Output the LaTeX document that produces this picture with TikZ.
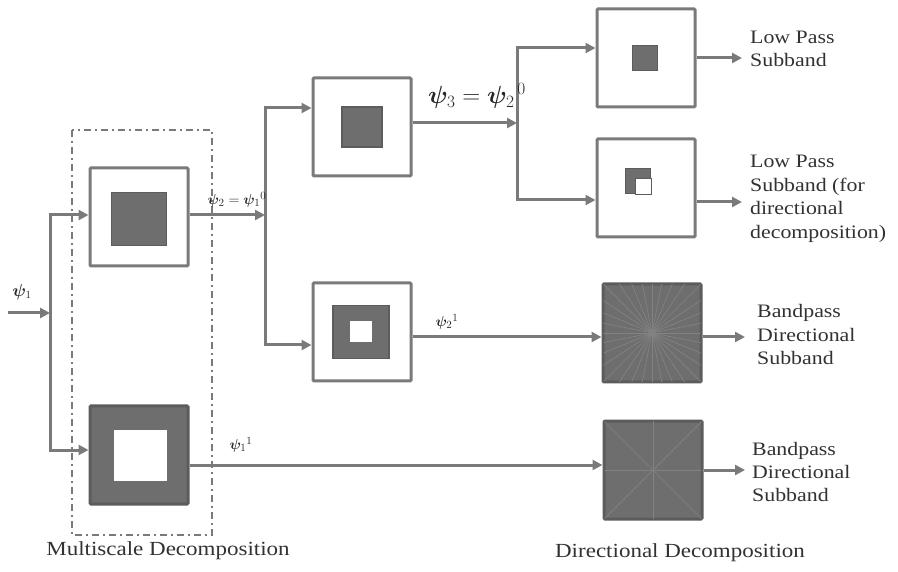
\documentclass[tikz,border=0pt]{standalone}
\usepackage{bm}
\usepackage{fontspec}
\setmainfont{Liberation Serif}
\newfontfamily\lblfont[FakeStretch=1.15]{Liberation Serif}
\usetikzlibrary{arrows.meta}

\definecolor{linegray}{RGB}{122,122,122}
\definecolor{boxgray}{RGB}{110,110,110}
\definecolor{edgegray}{RGB}{92,92,92}
\definecolor{raygray}{RGB}{130,130,130}
\definecolor{txtgray}{RGB}{50,50,50}

\tikzstyle{frame}=[draw=linegray,line width=3pt,fill=white,minimum size=98pt,inner sep=0pt,rounded corners=1pt]
\tikzstyle{darkframe}=[frame,draw=edgegray,fill=boxgray]
\tikzstyle{core}=[draw=edgegray,line width=1.5pt,fill=boxgray,inner sep=0pt]
\tikzstyle{hole}=[draw=edgegray,line width=1pt,fill=white,inner sep=0pt]
\tikzstyle{flow}=[draw=linegray,line width=3pt,-{Triangle[length=10pt,width=10pt]}]
\tikzstyle{ray}=[draw=raygray,line width=0.7pt]
\tikzstyle{msbox}=[draw=linegray,line width=2pt,dash pattern=on 7pt off 4pt on 2pt off 4pt]
\tikzstyle{lbl}=[text=txtgray,font=\lblfont\fontsize{19}{23.5}\selectfont,align=left,inner sep=0pt]
\tikzstyle{foot}=[text=txtgray,font=\lblfont\fontsize{20}{24}\selectfont,inner sep=0pt]
\tikzstyle{sym}=[text=black!85,inner sep=0pt]

\begin{document}
\begin{tikzpicture}[x=1pt,y=-1pt]
	\useasboundingbox (0,0) rectangle (898,572);
	%Multiscale stage
	\draw[msbox] (72,130) rectangle (212,535);
	%Boxes, white
	\foreach \pos/\name in {{(139,217)/lo1}, {(362,127)/lo2}, {(646,58)/lo3},
							{(646,188)/lo3d}, {(362,332)/hi2}}
		\node[frame] (\name) at \pos {};
	%Boxes, dark
	\foreach \pos/\name in {{(139,455)/hi1}, {(652,333)/dir2}, {(653,470)/dir1}}
		\node[darkframe] (\name) at \pos {};
	%Contents
	\node[core,minimum width=55pt,minimum height=53pt] (lo1c) at (139,219) {};
	\node[core,minimum size=40pt] (lo2c) at (362,127) {};
	\node[core,minimum size=25pt] (lo3c) at (645,58) {};
	\node[core,minimum size=25pt] (lo3dc) at (638,181) {};
	\node[hole,minimum size=16pt] (lo3dh) at (643,187) {};
	\node[hole,draw=none,minimum width=53pt,minimum height=51pt] (hi1h) at (140,455) {};
	\node[core,minimum width=56pt,minimum height=53pt] (hi2c) at (361,332) {};
	\node[hole,draw=none,minimum width=22pt,minimum height=21pt] (hi2h) at (361,332) {};
	%Directional filters
	\begin{scope}
		\clip ([shift={(2pt,2pt)}]dir2.south west) rectangle ([shift={(-2pt,-2pt)}]dir2.north east);
		\foreach \a in {0,11.25,...,350}
			\draw[ray] (dir2.center) -- ++(\a:80pt);
	\end{scope}
	\begin{scope}
		\clip ([shift={(2pt,2pt)}]dir1.south west) rectangle ([shift={(-2pt,-2pt)}]dir1.north east);
		\foreach \a in {0,45,...,315}
			\draw[ray] (dir1.center) -- ++(\a:80pt);
	\end{scope}
	%Junctions
	\foreach \pos/\name in {{(8,313)/src}, {(50,313)/split1}, {(265,215)/split2}, {(517,123)/split3},
							{(742,58)/o1}, {(742,202)/o2}, {(745,337)/o3}, {(745,470)/o4}}
		\node[coordinate] (\name) at \pos {};
	%Connectors
	\draw[flow] (src) -- (split1);
	\draw[flow] (split1) |- ([yshift=2pt]lo1.west);
	\draw[flow] (split1) |- ([yshift=5pt]hi1.west);
	\draw[flow] ([yshift=2pt]lo1.east) -- (split2);
	\draw[flow] (split2) |- ([yshift=19pt]lo2.west);
	\draw[flow] (split2) |- ([yshift=-13pt]hi2.west);
	\draw[flow] ([yshift=4pt]lo2.east) -- (split3);
	\draw[flow] (split3) |- ([yshift=10pt]lo3.west);
	\draw[flow] (split3) |- ([yshift=-12pt]lo3d.west);
	\draw[flow] ([yshift=-5pt]hi2.east) -- ([yshift=-5pt]hi2.east -| dir2.west);
	\draw[flow] ([yshift=-10pt]hi1.east) -- ([yshift=-10pt]hi1.east -| dir1.west);
	\draw[flow] (lo3.east) -- (o1);
	\draw[flow] ([yshift=-14pt]lo3d.east) -- (o2);
	\draw[flow] ([yshift=-4pt]dir2.east) -- (o3);
	\draw[flow] (dir1.east) -- (o4);
	%Signals
	\node[sym] (p1) at (22,292) {\fontsize{16}{16}\selectfont$\bm{\psi}_1$};
	\node[sym] (p2) at (237,200) {\fontsize{15}{15}\selectfont$\bm{\psi}_2=\bm{\psi}_1{}^{0}$};
	\node[sym] (p3) at (477,96) {\fontsize{26}{26}\selectfont$\bm{\psi}_3=\bm{\psi}_2{}^{\,0}$};
	\node[sym] (p4) at (447,322) {\fontsize{15}{15}\selectfont$\bm{\psi}_2{}^{1}$};
	\node[sym] (p5) at (241,445) {\fontsize{15}{15}\selectfont$\bm{\psi}_1{}^{1}$};
	%Outputs
	\node[lbl,anchor=west] (t1) at (750,49) {Low Pass\\Subband};
	\node[lbl,anchor=west] (t2) at (750,199) {Low Pass\\Subband (for\\directional\\decomposition)};
	\node[lbl,anchor=west] (t3) at (757,335) {Bandpass\\Directional\\Subband};
	\node[lbl,anchor=west] (t4) at (752,472) {Bandpass\\Directional\\Subband};
	%Stages
	\node[foot] (ms) at (168,551) {Multiscale Decomposition};
	\node[foot] (dd) at (680,553) {Directional Decomposition};
\end{tikzpicture}
\end{document}
